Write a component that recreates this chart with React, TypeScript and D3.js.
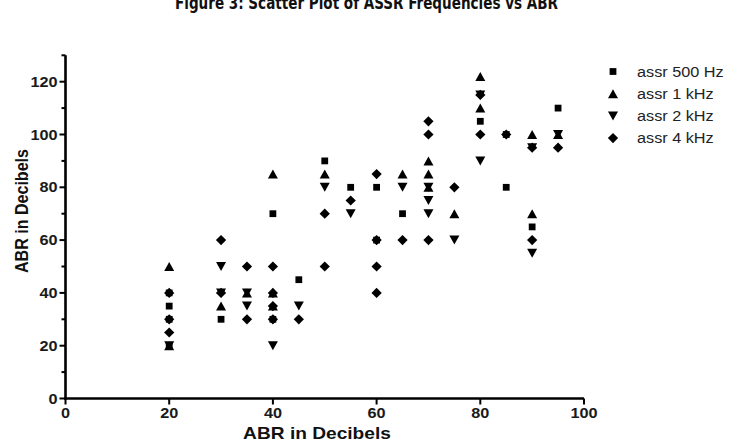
import * as d3 from "d3";

// [ABR, ASSR] pairs
const assr500: [number, number][] = [
  [20, 40], [20, 35], [20, 30], [20, 20],
  [30, 30], [40, 70], [40, 30], [45, 45], [50, 90], [55, 80],
  [60, 80], [60, 60], [65, 70], [80, 105], [85, 100], [85, 80],
  [90, 65], [95, 110],
];
const assr1k: [number, number][] = [
  [20, 50], [20, 20], [30, 35], [35, 40], [40, 85], [40, 40], [40, 35],
  [50, 85], [65, 85], [70, 90], [70, 85], [70, 80], [75, 70],
  [80, 122], [80, 110], [90, 100], [90, 70], [95, 100],
];
const assr2k: [number, number][] = [
  [20, 20], [30, 50], [30, 40], [35, 40], [35, 35], [40, 20], [45, 35],
  [50, 80], [55, 70], [65, 80], [70, 80], [70, 75], [70, 70], [75, 60],
  [80, 115], [80, 90], [90, 95], [90, 55], [95, 100],
];
const assr4k: [number, number][] = [
  [20, 40], [20, 30], [20, 25], [30, 60], [30, 40], [35, 50], [35, 30],
  [40, 50], [40, 40], [40, 35], [40, 30], [45, 30], [50, 70], [50, 50],
  [55, 75], [60, 85], [60, 60], [60, 50], [60, 40], [65, 60],
  [70, 105], [70, 100], [70, 60], [75, 80], [80, 115], [80, 100],
  [85, 100], [90, 95], [90, 60], [95, 95],
];

const seriesNames = ["assr 500 Hz", "assr 1 kHz", "assr 2 kHz", "assr 4 kHz"];
const xTicks = [0, 20, 40, 60, 80, 100];
const yTicks = [0, 20, 40, 60, 80, 100, 120];
const yMinorTicks = [10, 30, 50, 70, 90, 110, 130];

const triUp = {
  draw(ctx: any, size: number) {
    const s = Math.sqrt(size);
    const h = s * 0.9;
    ctx.moveTo(0, -h / 2);
    ctx.lineTo(s / 2, h / 2);
    ctx.lineTo(-s / 2, h / 2);
    ctx.closePath();
  },
};
const triDown = {
  draw(ctx: any, size: number) {
    const s = Math.sqrt(size);
    const h = s * 0.9;
    ctx.moveTo(0, h / 2);
    ctx.lineTo(s / 2, -h / 2);
    ctx.lineTo(-s / 2, -h / 2);
    ctx.closePath();
  },
};
const diamond = {
  draw(ctx: any, size: number) {
    const r = Math.sqrt(size) / 2;
    ctx.moveTo(0, -r);
    ctx.lineTo(r, 0);
    ctx.lineTo(0, r);
    ctx.lineTo(-r, 0);
    ctx.closePath();
  },
};

const symbols = [
  d3.symbol().type(d3.symbolSquare).size(46)(),
  d3.symbol().type(triUp).size(100)(),
  d3.symbol().type(triDown).size(100)(),
  d3.symbol().type(diamond).size(105)(),
];

const W = 732;
const H = 443;
const FONT = "'Liberation Sans', Arial, sans-serif";
const SX = 1.16; // the original figure is stretched horizontally

export default function App() {
  const x = d3.scaleLinear().domain([0, 100]).range([65.5, 584]);
  const y = d3.scaleLinear().domain([0, 130]).range([398.5, 55.3]);
  const data = [assr500, assr1k, assr2k, assr4k];

  return (
    <svg
      width={W}
      height={H}
      style={{ position: "absolute", left: 0, top: 0, background: "#fff" }}
    >
      <rect width={W} height={H} fill="#fff" />
      {/* title, cut off at the top in the source */}
      <text
        x={175}
        y={9}
        fontFamily="'Liberation Sans Narrow', 'DejaVu Sans Condensed', sans-serif"
        fontWeight="bold"
        fontSize={18}
        textLength={383}
        lengthAdjust="spacingAndGlyphs"
        fill="#111"
      >
        Figure 3: Scatter  Plot of ASSR Frequencies vs ABR
      </text>

      {/* axes */}
      <g stroke="#000" strokeWidth={2.6} fill="none">
        <line x1={x(0)} x2={x(0)} y1={y(130)} y2={y(0) + 1.3} />
        <line x1={x(0) - 1.3} x2={x(100)} y1={y(0)} y2={y(0)} />
      </g>
      <g stroke="#000" strokeWidth={2}>
        {yTicks.map((t) => (
          <line key={"yt" + t} x1={x(0) - 6} x2={x(0)} y1={y(t)} y2={y(t)} />
        ))}
        {yMinorTicks.map((t) => (
          <line key={"ym" + t} x1={x(0) - 4} x2={x(0)} y1={y(t)} y2={y(t)} />
        ))}
        {xTicks.map((t) => (
          <line key={"xt" + t} x1={x(t)} x2={x(t)} y1={y(0)} y2={y(0) + 6} />
        ))}
      </g>
      <g fontFamily={FONT} fontWeight="bold" fontSize={14} fill="#1a1a1a">
        {yTicks.map((t) => (
          <text
            key={"yl" + t}
            transform={`translate(${x(0) - 8},${y(t) + 5}) scale(${SX},1)`}
            textAnchor="end"
          >
            {t}
          </text>
        ))}
        {xTicks.map((t) => (
          <text
            key={"xl" + t}
            transform={`translate(${x(t)},${y(0) + 19}) scale(${SX},1)`}
            textAnchor="middle"
          >
            {t}
          </text>
        ))}
      </g>
      <text
        transform={`translate(317,439) scale(${SX},1)`}
        textAnchor="middle"
        fontFamily={FONT}
        fontWeight="bold"
        fontSize={16.5}
        fill="#111"
      >
        ABR in Decibels
      </text>
      <text
        transform={`translate(28,211) rotate(-90)`}
        textAnchor="middle"
        fontFamily={FONT}
        fontWeight="bold"
        fontSize={18.5}
        textLength={124}
        lengthAdjust="spacingAndGlyphs"
        fill="#111"
      >
        ABR in Decibels
      </text>

      {/* points */}
      {data.map((pts, si) => (
        <g key={"s" + si} fill="#000">
          {pts.map(([a, b], i) => (
            <path
              key={i}
              d={symbols[si] as string}
              transform={`translate(${x(a)},${y(b)})`}
            />
          ))}
        </g>
      ))}

      {/* legend */}
      <g>
        {seriesNames.map((name, i) => (
          <g key={name} transform={`translate(613,${71.5 + i * 22.2})`}>
            <path d={symbols[i] as string} fill="#000" />
            <text
              transform={`translate(24,5) scale(${SX},1)`}
              fontFamily={FONT}
              fontSize={14}
              fill="#222"
            >
              {name}
            </text>
          </g>
        ))}
      </g>
    </svg>
  );
}
